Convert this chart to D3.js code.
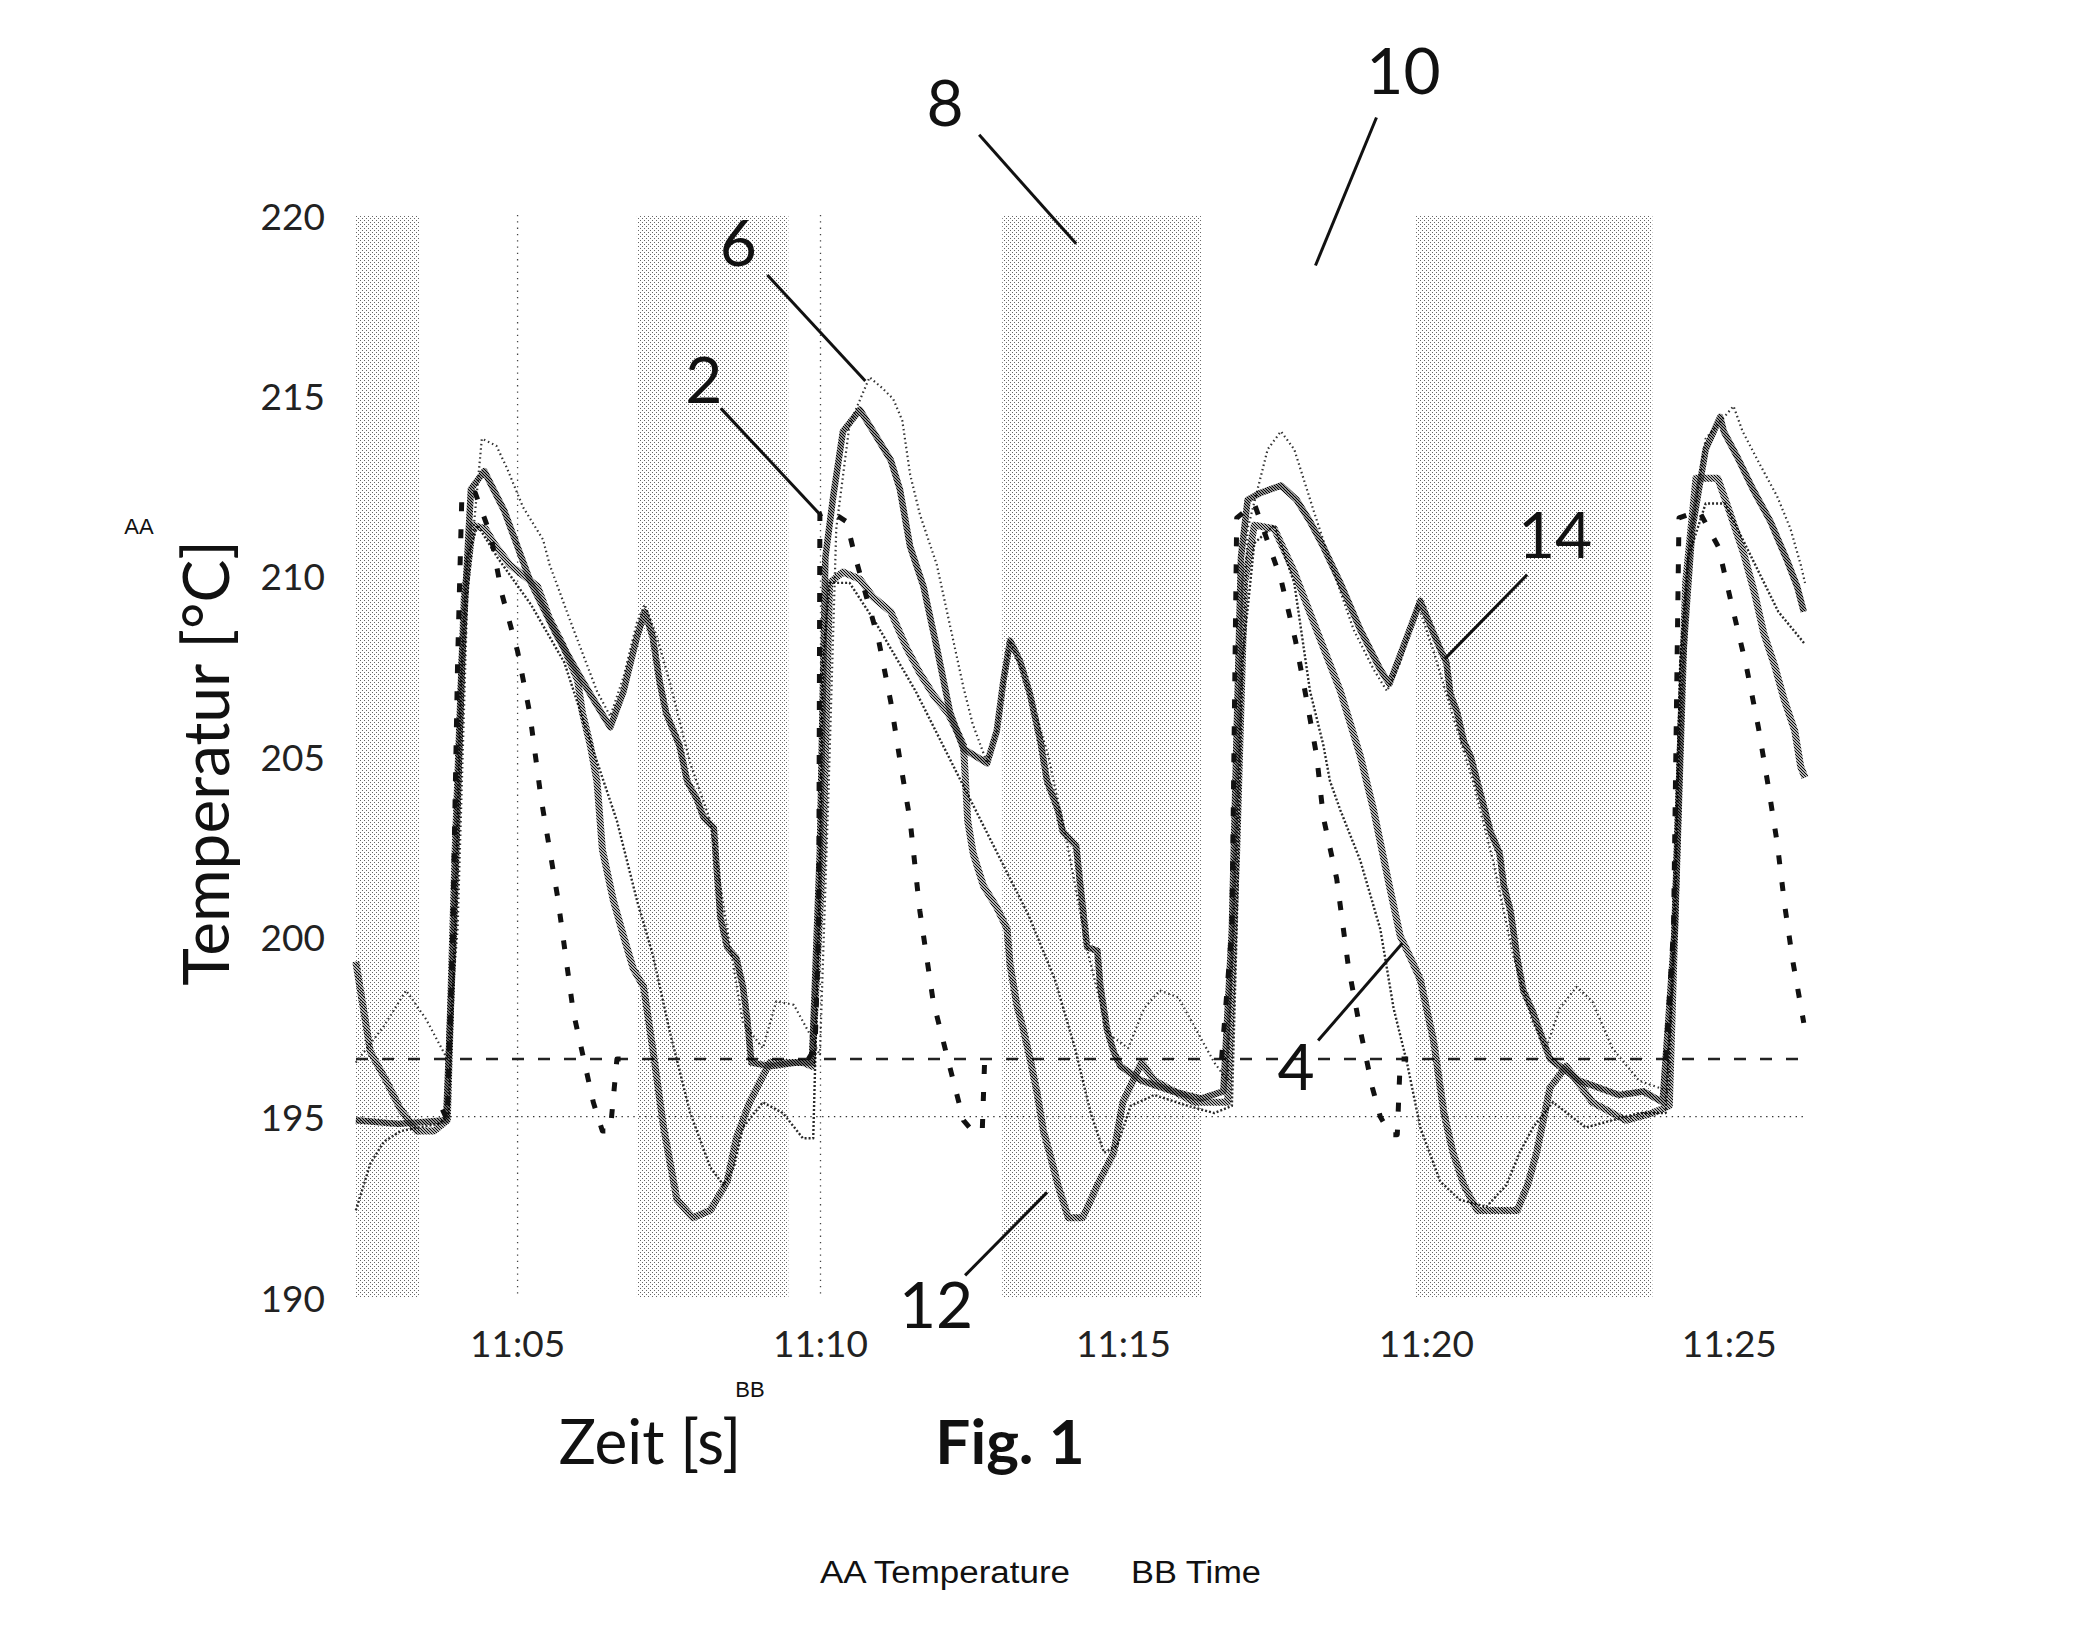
<!DOCTYPE html>
<html><head><meta charset="utf-8">
<script src="https://cdn.jsdelivr.net/npm/d3@7"></script>
<style>html,body{margin:0;padding:0;background:#fff;} svg{display:block;}</style>
</head><body>
<svg id="chart" width="2081" height="1636"></svg>
<script>
// ---------- DATA (time = minutes after 11:00, value = °C) ----------
const yTicks = [190, 195, 200, 205, 210, 215, 220];
const xTickLabels = ["11:05", "11:10", "11:15", "11:20", "11:25"];
const xTickMinutes = [5, 10, 15, 20, 25];
const gridMinutes = [5, 10];
const timeDomain = [2.333, 26.25];
const tempDomain = [190, 220];
const bandStart = [2.33, 6.97, 13.0, 19.83];
const bandEnd = [3.38, 9.47, 16.28, 23.73];
const setpointTemp = 196.6;
const lowerLimitTemp = 195;

// series "2" (heavy dashed)
const series2 = [[3.76,195.2],[3.84,194.9],[3.93,200.2],[4.01,207.6],[4.08,212.2],[4.30,212.3],[4.56,211.1],[4.74,209.5],[5.00,207.9],[5.20,206.2],[5.39,203.8],[5.66,201.1],[5.92,197.9],[6.25,195.4],[6.40,194.6],[6.53,194.6],[6.64,196.6],[6.75,196.6],[8.0,null],
[9.80,196.6],[9.91,196.9],[9.97,200.2],[9.99,211.7],[10.15,211.8],[10.43,211.5],[10.56,210.6],[10.96,208.2],[11.16,206.5],[11.31,204.9],[11.48,203.2],[11.64,200.7],[11.86,198.2],[12.10,196.6],[12.36,194.9],[12.51,194.6],[12.67,194.6],[12.71,196.6],[12.82,196.6],[14.0,null],
[16.62,196.6],[16.79,200.2],[16.87,211.6],[17.16,212.0],[17.60,209.9],[17.84,208.2],[18.03,206.5],[18.19,205.0],[18.30,203.3],[18.52,201.6],[18.71,199.2],[18.91,197.4],[19.11,195.8],[19.24,195.0],[19.41,194.5],[19.52,194.5],[19.57,196.6],[19.70,196.6],[21.0,null],
[23.95,196.6],[24.08,200.2],[24.17,211.6],[24.50,211.8],[24.82,210.8],[25.04,209.2],[25.28,207.5],[25.48,205.8],[25.64,204.2],[25.79,202.6],[25.92,200.8],[26.05,199.3],[26.23,197.6]];

// series "14" (stepped, hatched)
const series14 = [[2.33,194.9],[3.03,194.8],[3.82,194.9],[3.95,200.2],[4.08,207.6],[4.23,212.4],[4.45,212.9],[4.78,211.8],[5.22,209.8],[5.66,208.3],[6.10,207.0],[6.42,206.1],[6.53,205.8],[6.75,206.8],[6.97,208.3],[7.10,209.0],[7.23,208.3],[7.34,207.1],[7.45,206.2],[7.67,205.3],[7.80,204.3],[7.96,203.8],[8.07,203.3],[8.24,203.0],[8.29,201.8],[8.35,200.5],[8.46,199.7],[8.61,199.4],[8.72,198.6],[8.79,197.7],[8.86,196.5],[9.16,196.4],[9.60,196.5],[9.86,196.5],[9.99,202.4],[10.08,210.5],[10.21,212.2],[10.37,214.0],[10.65,214.6],[10.87,214.0],[11.16,213.2],[11.31,212.4],[11.48,210.8],[11.70,209.7],[11.92,208.0],[12.14,206.2],[12.36,205.2],[12.75,204.8],[12.91,205.7],[13.02,207.1],[13.13,208.2],[13.30,207.6],[13.46,206.7],[13.63,205.4],[13.74,204.3],[13.92,203.5],[14.00,202.9],[14.22,202.5],[14.29,201.4],[14.40,199.7],[14.57,199.6],[14.62,198.6],[14.73,197.4],[14.84,196.8],[14.95,196.4],[15.30,196.0],[15.82,195.7],[16.28,195.5],[16.65,195.7],[16.79,200.2],[16.94,210.5],[17.05,212.1],[17.27,212.3],[17.60,212.5],[17.86,212.1],[18.08,211.5],[18.30,210.8],[18.58,209.8],[18.91,208.5],[19.24,207.4],[19.39,207.0],[19.68,208.3],[19.90,209.3],[20.07,208.6],[20.22,208.0],[20.33,207.6],[20.40,206.7],[20.51,206.2],[20.62,205.4],[20.73,205.0],[20.84,204.3],[20.95,203.6],[21.06,202.9],[21.21,202.3],[21.28,201.4],[21.39,200.7],[21.50,199.4],[21.60,198.5],[21.76,197.9],[21.93,197.1],[22.04,196.6],[22.52,196.0],[23.18,195.6],[23.58,195.7],[23.90,195.4],[24.10,200.2],[24.23,207.6],[24.39,211.3],[24.61,213.5],[24.85,214.4],[24.91,214.0],[25.13,213.3],[25.39,212.4],[25.68,211.5],[25.96,210.4],[26.12,209.7],[26.23,209.0]];

// series "12" (U-shaped dips, hatched)
const series12 = [[2.33,199.3],[2.57,196.8],[2.83,196.0],[3.07,195.2],[3.34,194.6],[3.62,194.6],[3.84,194.9],[3.97,202.4],[4.12,209.4],[4.26,211.4],[4.47,211.3],[4.61,210.9],[4.87,210.3],[5.33,209.7],[5.53,208.8],[5.74,208.1],[5.99,207.1],[6.07,206.2],[6.20,205.3],[6.31,204.3],[6.40,202.4],[6.58,201.0],[6.75,200.0],[6.91,199.1],[7.08,198.6],[7.23,196.9],[7.41,194.7],[7.63,192.7],[7.89,192.2],[8.18,192.4],[8.46,193.2],[8.61,194.4],[8.83,195.4],[9.16,196.5],[9.71,196.5],[9.86,196.4],[10.04,202.4],[10.15,209.8],[10.37,210.1],[10.65,209.9],[10.87,209.4],[11.16,209.0],[11.42,208.0],[11.64,207.3],[11.86,206.7],[12.10,206.2],[12.25,205.7],[12.36,205.3],[12.43,203.2],[12.52,202.3],[12.69,201.4],[12.91,200.8],[13.08,200.2],[13.13,199.2],[13.24,198.1],[13.35,197.4],[13.46,196.6],[13.57,195.7],[13.68,194.6],[13.78,194.0],[13.92,193.1],[14.09,192.2],[14.33,192.2],[14.57,193.1],[14.84,194.0],[14.99,195.4],[15.30,196.5],[15.51,196.0],[16.17,195.4],[16.72,195.4],[16.87,202.4],[17.00,209.8],[17.16,211.4],[17.49,211.3],[17.82,210.1],[18.14,208.7],[18.58,206.8],[18.91,205.0],[19.13,203.5],[19.39,201.4],[19.57,200.0],[19.74,199.4],[19.90,198.8],[20.12,197.1],[20.29,195.1],[20.44,194.0],[20.62,193.1],[20.84,192.4],[21.17,192.4],[21.50,192.4],[21.67,193.1],[21.82,194.0],[21.93,194.9],[22.04,195.8],[22.31,196.4],[22.74,195.4],[23.29,194.9],[23.73,195.1],[24.01,195.3],[24.14,202.4],[24.28,209.8],[24.45,212.7],[24.81,212.7],[25.02,211.7],[25.24,210.6],[25.42,209.5],[25.57,208.4],[25.75,207.5],[25.90,206.6],[26.08,205.7],[26.18,204.7],[26.25,204.4]];

// series "6" (light dotted, highest peaks)
const series6 = [[2.33,196.5],[2.79,197.5],[3.16,198.5],[3.49,197.7],[3.84,196.6],[4.01,200.2],[4.17,209.4],[4.41,213.8],[4.65,213.6],[4.82,213.0],[5.09,211.9],[5.42,211.0],[5.53,210.3],[5.88,208.7],[6.31,206.8],[6.53,206.1],[6.75,207.2],[6.97,208.7],[7.10,209.2],[7.30,208.3],[7.52,207.0],[7.85,204.8],[8.18,203.2],[8.46,200.2],[8.72,197.6],[9.05,196.9],[9.27,198.2],[9.56,198.1],[9.82,197.3],[9.99,196.7],[10.13,203.9],[10.26,211.3],[10.48,214.2],[10.81,215.5],[11.02,215.2],[11.20,214.9],[11.35,214.3],[11.48,212.8],[11.64,211.7],[11.92,210.3],[12.14,208.6],[12.36,206.9],[12.51,205.9],[12.75,204.8],[12.91,205.7],[13.13,208.2],[13.37,207.2],[13.76,205.0],[14.09,202.4],[14.42,199.5],[14.75,197.3],[15.08,196.9],[15.34,198.0],[15.60,198.5],[15.91,198.3],[16.17,197.5],[16.50,196.5],[16.72,196.0],[16.89,203.9],[17.05,211.3],[17.38,213.5],[17.60,214.0],[17.82,213.5],[18.14,211.8],[18.47,210.1],[18.80,208.5],[19.13,207.4],[19.35,206.8],[19.57,207.6],[19.86,209.2],[20.12,207.9],[20.44,206.1],[20.77,204.3],[21.10,202.1],[21.43,199.5],[21.76,197.6],[21.98,196.9],[22.20,198.0],[22.48,198.6],[22.74,198.2],[23.07,196.9],[23.51,196.0],[23.84,195.8],[24.01,195.7],[24.14,203.9],[24.32,210.5],[24.61,213.8],[25.07,214.7],[25.22,214.0],[25.50,213.1],[25.79,212.2],[26.01,211.3],[26.18,210.3],[26.25,209.8]];

// series "4" (thin)
const series4 = [[2.33,192.4],[2.57,193.7],[2.79,194.3],[3.07,194.6],[3.36,194.7],[3.69,194.8],[3.86,195.0],[3.97,200.2],[4.06,206.8],[4.17,210.5],[4.34,211.4],[4.67,210.5],[5.22,209.2],[5.77,207.6],[6.20,205.4],[6.64,203.2],[6.97,201.0],[7.23,199.5],[7.52,197.3],[7.85,195.1],[8.18,193.6],[8.40,193.1],[8.57,193.6],[8.72,194.7],[9.05,195.4],[9.38,195.1],[9.71,194.4],[9.88,194.4],[9.97,200.2],[10.04,207.6],[10.15,209.8],[10.48,209.8],[10.91,208.7],[11.57,206.8],[12.23,204.6],[12.89,202.4],[13.43,200.6],[13.87,198.8],[14.20,196.9],[14.46,195.1],[14.68,194.0],[14.90,194.2],[15.12,195.3],[15.51,195.6],[16.06,195.3],[16.50,195.1],[16.79,195.3],[16.87,200.2],[16.96,207.6],[17.16,210.9],[17.49,211.4],[17.82,209.8],[18.08,206.8],[18.30,205.3],[18.41,204.3],[18.58,203.5],[18.91,202.1],[19.24,200.2],[19.46,198.0],[19.68,196.5],[19.90,194.7],[20.23,193.2],[20.55,192.7],[20.99,192.5],[21.32,193.1],[21.54,194.0],[21.76,194.7],[22.09,195.4],[22.63,194.7],[23.07,194.9],[23.51,195.1],[23.95,195.1],[24.10,200.2],[24.19,207.6],[24.32,210.5],[24.61,212.0],[24.93,212.0],[25.37,210.5],[25.81,209.0],[26.25,208.1]];

// reference numerals: label, target time, target temp
const refLabels = ["8", "10", "6", "2", "14", "4", "12"];
const refTargets = [[14.22, 219.2], [18.17, 218.6], [10.74, 215.4], [9.99, 211.7], [20.31, 207.7], [19.60, 199.8], [13.74, 192.9]];

// ---------- DRAWING ----------
const svg = d3.select("#chart");
const base = new Date(2020, 0, 1, 11, 0, 0).getTime();
const toDate = m => new Date(base + m * 60000);

const x = d3.scaleTime().domain(timeDomain.map(toDate)).range([356, 1805]);
const y = d3.scaleLinear().domain(tempDomain).range([1297, 215]);

const defs = svg.append("defs");
const stip = defs.append("pattern").attr("id", "stipple").attr("patternUnits", "userSpaceOnUse").attr("width", 4).attr("height", 4);
stip.append("rect").attr("width", 4).attr("height", 4).attr("fill", "#fff");
stip.append("rect").attr("x", 0).attr("y", 0).attr("width", 1).attr("height", 1).attr("fill", "#666");
stip.append("rect").attr("x", 2).attr("y", 2).attr("width", 1).attr("height", 1).attr("fill", "#666");

const hatch = defs.append("pattern").attr("id", "hatch").attr("patternUnits", "userSpaceOnUse").attr("width", 3).attr("height", 3);
hatch.append("path").attr("d", "M-1,-1 L4,4 M-1,2 L1,4 M2,-1 L4,1").attr("stroke", "#000").attr("stroke-width", 1.15).attr("fill", "none");

const hatch2 = defs.append("pattern").attr("id", "hatch2").attr("patternUnits", "userSpaceOnUse").attr("width", 3).attr("height", 3);
hatch2.append("path").attr("d", "M-1,-1 L4,4 M-1,2 L1,4 M2,-1 L4,1").attr("stroke", "#000").attr("stroke-width", 1.3).attr("fill", "none");

// shaded bands
svg.append("g").selectAll("rect").data(bandStart).join("rect")
  .attr("x", (d) => x(toDate(d)))
  .attr("width", (d, i) => x(toDate(bandEnd[i])) - x(toDate(d)))
  .attr("y", y(220)).attr("height", y(190) - y(220))
  .attr("fill", "url(#stipple)");

// vertical dotted grid lines
svg.append("g").selectAll("line").data(gridMinutes).join("line")
  .attr("x1", d => x(toDate(d))).attr("x2", d => x(toDate(d)))
  .attr("y1", y(220)).attr("y2", y(190))
  .attr("stroke", "#444").attr("stroke-width", 1.3).attr("stroke-dasharray", "1.3,5");

// lower limit dotted line and setpoint dashed line
svg.append("line").attr("x1", x.range()[0]).attr("x2", x.range()[1])
  .attr("y1", y(lowerLimitTemp)).attr("y2", y(lowerLimitTemp))
  .attr("stroke", "#333").attr("stroke-width", 1.4).attr("stroke-dasharray", "1.4,4.5");
svg.append("line").attr("x1", x.range()[0]).attr("x2", x.range()[1])
  .attr("y1", y(setpointTemp)).attr("y2", y(setpointTemp))
  .attr("stroke", "#222").attr("stroke-width", 2.4).attr("stroke-dasharray", "12,14");

const line = d3.line().defined(d => d[1] !== null).x(d => x(toDate(d[0]))).y(d => y(d[1]));

const g = svg.append("g").attr("fill", "none").attr("stroke-linejoin", "round");
g.append("path").datum(series6).attr("d", line).attr("stroke", "#333").attr("stroke-width", 2.2).attr("stroke-dasharray", "1.5,3");
g.append("path").datum(series4).attr("d", line).attr("stroke", "#2a2a2a").attr("stroke-width", 2.4).attr("stroke-dasharray", "2,2");
g.append("path").datum(series12).attr("d", line).attr("stroke", "url(#hatch)").attr("stroke-width", 7);
g.append("path").datum(series14).attr("d", line).attr("stroke", "url(#hatch2)").attr("stroke-width", 6.5);
g.append("path").datum(series2).attr("d", line).attr("stroke", "#111").attr("stroke-width", 5).attr("stroke-dasharray", "9,18");

// y tick labels
svg.append("g").selectAll("text").data(yTicks).join("text")
  .attr("x", 325).attr("y", d => y(d)).attr("text-anchor", "end").attr("dominant-baseline", "central")
  .attr("font-family", "Lato, 'Open Sans', sans-serif").attr("font-size", 37).attr("fill", "#222")
  .text(d => d);

// x tick labels
svg.append("g").selectAll("text").data(xTickLabels).join("text")
  .attr("x", (d, i) => x(toDate(xTickMinutes[i]))).attr("y", 1357).attr("text-anchor", "middle")
  .attr("font-family", "Lato, 'Open Sans', sans-serif").attr("font-size", 37).attr("fill", "#222")
  .text(d => d);

// axis titles
svg.append("text").attr("transform", "translate(229,763) rotate(-90)").attr("text-anchor", "middle")
  .attr("font-family", "Lato, sans-serif").attr("font-size", 64).attr("fill", "#111").text("Temperatur [°C]");
svg.append("text").attr("x", 139).attr("y", 526).attr("text-anchor", "middle").attr("dominant-baseline", "central")
  .attr("font-family", "'Liberation Sans', Arial, sans-serif").attr("font-size", 22).attr("fill", "#111").text("AA");
svg.append("text").attr("x", 650).attr("y", 1464).attr("text-anchor", "middle")
  .attr("font-family", "Lato, sans-serif").attr("font-size", 62).attr("fill", "#111").text("Zeit [s]");
svg.append("text").attr("x", 750).attr("y", 1389).attr("text-anchor", "middle").attr("dominant-baseline", "central")
  .attr("font-family", "'Liberation Sans', Arial, sans-serif").attr("font-size", 22).attr("fill", "#111").text("BB");
svg.append("text").attr("x", 1010).attr("y", 1464).attr("text-anchor", "middle")
  .attr("font-family", "Lato, sans-serif").attr("font-weight", "bold").attr("font-size", 62).attr("fill", "#111").text("Fig. 1");
svg.append("text").attr("x", 820).attr("y", 1583).attr("textLength", 250).attr("lengthAdjust", "spacingAndGlyphs")
  .attr("font-family", "'Liberation Sans', Arial, sans-serif").attr("font-size", 31).attr("fill", "#111").text("AA Temperature");
svg.append("text").attr("x", 1131).attr("y", 1583).attr("textLength", 130).attr("lengthAdjust", "spacingAndGlyphs")
  .attr("font-family", "'Liberation Sans', Arial, sans-serif").attr("font-size", 31).attr("fill", "#111").text("BB Time");

// reference numerals with leader lines (offsets in px from target)
const leaderStart = [[-97, -109], [61, -148], [-98, -106], [-99, -106], [82, -84], [-84, 97], [-82, 83]];
const labelOffset = [[-131, -142], [88, -196], [-127, -139], [-116, -136], [110, -125], [-106, 122], [-111, 111]];
const ann = svg.append("g");
refLabels.forEach((lab, i) => {
  const tx = x(toDate(refTargets[i][0])), ty = y(refTargets[i][1]);
  ann.append("line").attr("x1", tx + leaderStart[i][0]).attr("y1", ty + leaderStart[i][1])
    .attr("x2", tx).attr("y2", ty).attr("stroke", "#111").attr("stroke-width", 3);
  ann.append("text").attr("x", tx + labelOffset[i][0]).attr("y", ty + labelOffset[i][1])
    .attr("text-anchor", "middle").attr("dominant-baseline", "central")
    .attr("font-family", "Lato, sans-serif").attr("font-size", 64).attr("fill", "#111").text(lab);
});
</script>
</body></html>
